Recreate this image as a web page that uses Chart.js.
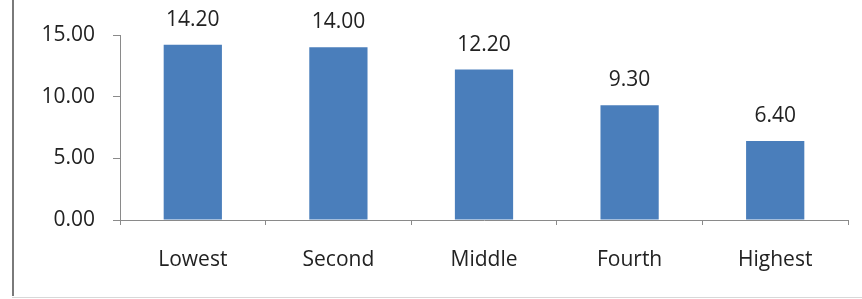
<!DOCTYPE html>
<html>
<head>
<meta charset="utf-8">
<script src="https://cdn.jsdelivr.net/npm/chart.js@4.4.1/dist/chart.umd.min.js"></script>
<style>
  html, body { margin: 0; padding: 0; background: #fff; }
  #wrap { position: relative; width: 862px; height: 299px; }
  canvas { display: block; }
</style>
</head>
<body>
<div id="wrap"><canvas id="c" width="862" height="299"></canvas></div>
<script>
const categories = ["Lowest", "Second", "Middle", "Fourth", "Highest"];
const values = [14.20, 14.00, 12.20, 9.30, 6.40];
const yTicks = [0, 5, 10, 15];

const FONT = "'Open Sans', Lato, sans-serif";

const frame = {
  id: 'frame',
  beforeDraw(chart) {
    const ctx = chart.ctx;
    ctx.save();
    ctx.strokeStyle = '#7a7a7a';
    ctx.lineWidth = 2;
    ctx.beginPath();
    ctx.moveTo(13, 0);
    ctx.lineTo(13, 296);
    ctx.stroke();
    ctx.strokeStyle = '#d8d8d8';
    ctx.lineWidth = 1;
    ctx.beginPath();
    ctx.moveTo(12, 297.5);
    ctx.lineTo(862, 297.5);
    ctx.stroke();
    ctx.restore();
  }
};

const valueLabels = {
  id: 'valueLabels',
  afterDatasetsDraw(chart) {
    const ctx = chart.ctx;
    const meta = chart.getDatasetMeta(0);
    ctx.save();
    ctx.font = "21px " + FONT;
    ctx.fillStyle = '#222';
    ctx.textAlign = 'center';
    ctx.textBaseline = 'middle';
    meta.data.forEach((bar, i) => {
      ctx.fillText(values[i].toFixed(2), bar.x, bar.y - 25);
    });
    ctx.restore();
  }
};

new Chart(document.getElementById('c'), {
  type: 'bar',
  data: {
    labels: categories,
    datasets: [{
      data: values,
      backgroundColor: '#4a7ebb',
      borderWidth: 0,
      barPercentage: 0.8,
      categoryPercentage: 0.5
    }]
  },
  options: {
    responsive: false,
    animation: false,
    devicePixelRatio: 1,
    layout: { padding: { left: 0, top: 35, right: 14, bottom: 0 } },
    plugins: { legend: { display: false }, tooltip: { enabled: false } },
    scales: {
      x: {
        grid: { display: true, drawOnChartArea: false, drawTicks: true, tickLength: 5, color: '#8a8a8a', offset: true },
        border: { display: true, color: '#8a8a8a', width: 1 },
        ticks: { font: { family: FONT, size: 21 }, color: '#222', padding: 22 },
        afterFit(scale) { scale.height = 79; }
      },
      y: {
        min: 0, max: 15,
        afterBuildTicks(scale) { scale.ticks = yTicks.map(v => ({ value: v })); },
        grid: { display: true, drawOnChartArea: false, drawTicks: true, tickLength: 7, color: '#8a8a8a' },
        border: { display: true, color: '#8a8a8a', width: 1 },
        ticks: { font: { family: FONT, size: 21 }, color: '#222', padding: 18,
                 callback: v => Number(v).toFixed(2) },
        afterFit(scale) { scale.width = 120; }
      }
    }
  },
  plugins: [frame, valueLabels]
});
</script>
</body>
</html>
